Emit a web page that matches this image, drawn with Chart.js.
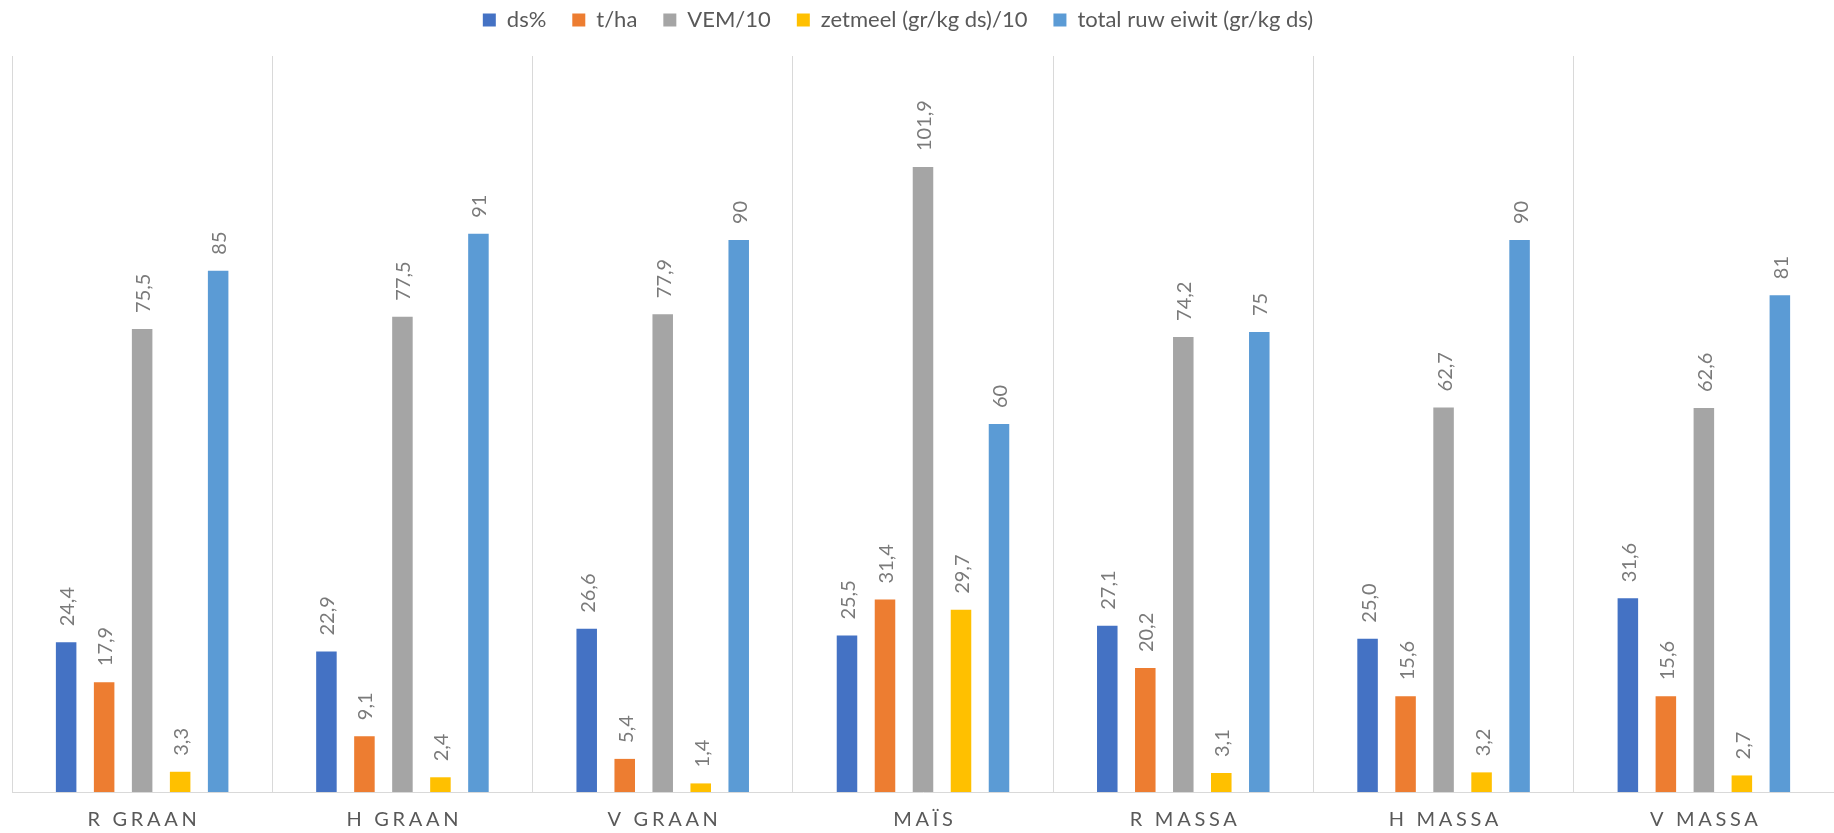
<!DOCTYPE html>
<html>
<head>
<meta charset="utf-8">
<title>Opbrengst en kwaliteit per teelt</title>
<script src="https://cdn.jsdelivr.net/npm/chart.js@4.4.1/dist/chart.umd.min.js"></script>
<style>
  html, body { margin: 0; padding: 0; background: #ffffff; }
  #wrap { width: 1834px; height: 833px; }
</style>
</head>
<body>
<div id="wrap"><canvas id="chart" width="1834" height="833"></canvas></div>
<script>
// Categories (teelten) along the x axis
const categories = ['R GRAAN', 'H GRAAN', 'V GRAAN', 'MAÏS', 'R MASSA', 'H MASSA', 'V MASSA'];

// Series names as shown in the legend
const seriesNames = ['ds%', 't/ha', 'VEM/10', 'zetmeel (gr/kg ds)/10', 'total ruw eiwit (gr/kg ds)'];

// Series values per category
const dsPercent   = [24.4, 22.9, 26.6, 25.5, 27.1, 25.0, 31.6];
const tonPerHa    = [17.9,  9.1,  5.4, 31.4, 20.2, 15.6, 15.6];
const vemDiv10    = [75.5, 77.5, 77.9, 101.9, 74.2, 62.7, 62.6];
const zetmeelDiv10 = [3.3,  2.4,  1.4, 29.7,  3.1,  3.2,  2.7];
const ruwEiwit    = [85, 91, 90, 60, 75, 90, 81];

// Decimals used in each series' value labels
const labelDecimals = [1, 1, 1, 1, 0];

// Value axis range
const valueMin = 0;
const valueMax = 120;

const seriesValues = [dsPercent, tonPerHa, vemDiv10, zetmeelDiv10, ruwEiwit];
const seriesColors = ['#4472C4', '#ED7D31', '#A5A5A5', '#FFC000', '#5B9BD5'];

const FONT = 'Lato, "Open Sans", "Liberation Sans", sans-serif';

function formatValue(v, decimals) {
  return v.toFixed(decimals).replace('.', ',');
}

// Rotated value labels above each bar
const barValueLabels = {
  id: 'barValueLabels',
  afterDatasetsDraw(chart) {
    const ctx = chart.ctx;
    ctx.save();
    ctx.font = '20px ' + FONT;
    ctx.fillStyle = '#7a7a7a';
    ctx.textAlign = 'left';
    ctx.textBaseline = 'alphabetic';
    chart.data.datasets.forEach((ds, di) => {
      const meta = chart.getDatasetMeta(di);
      if (meta.hidden) return;
      meta.data.forEach((bar, i) => {
        const text = formatValue(ds.data[i], labelDecimals[di]);
        ctx.save();
        ctx.translate(bar.x + 8, bar.y - 16);
        ctx.rotate(-Math.PI / 2);
        ctx.fillText(text, 0, 0);
        ctx.restore();
      });
    });
    ctx.restore();
  }
};

// Spaced-out category names under the axis
const categoryNames = {
  id: 'categoryNames',
  afterDraw(chart) {
    const ctx = chart.ctx;
    const xScale = chart.scales.x;
    const spacing = 3.7;
    ctx.save();
    ctx.font = '20px ' + FONT;
    ctx.letterSpacing = spacing + 'px';
    ctx.fillStyle = '#595959';
    ctx.textAlign = 'center';
    ctx.textBaseline = 'middle';
    const y = chart.chartArea.bottom + 28;
    categories.forEach((name, i) => {
      ctx.fillText(name, xScale.getPixelForValue(i) + spacing / 2, y);
    });
    ctx.restore();
  }
};

// Lift the legend into the top margin and nudge it slightly left
const legendPlacement = {
  id: 'legendPlacement',
  afterLayout(chart) {
    const lg = chart.legend;
    if (!lg) return;
    lg.top -= 15; lg.bottom -= 15;
    lg.left -= 25; lg.right -= 25;
  }
};

const datasets = seriesNames.map((name, i) => ({
  label: name,
  data: seriesValues[i],
  backgroundColor: seriesColors[i],
  borderWidth: 0,
  categoryPercentage: 0.73,
  barPercentage: 0.54
}));

new Chart(document.getElementById('chart'), {
  type: 'bar',
  data: { labels: categories, datasets },
  options: {
    responsive: false,
    animation: false,
    devicePixelRatio: 1,
    layout: { padding: { left: 12, right: 0, top: -2, bottom: 41 } },
    plugins: {
      legend: {
        position: 'top',
        align: 'center',
        labels: {
          font: { family: FONT, size: 22 },
          color: '#595959',
          boxWidth: 13,
          boxHeight: 13,
          padding: 26
        }
      },
      tooltip: { enabled: false },
      title: { display: false }
    },
    scales: {
      x: {
        grid: {
          display: true,
          offset: true,
          color: '#d9d9d9',
          lineWidth: 1,
          drawTicks: false
        },
        border: { display: true, color: '#d9d9d9', width: 1 },
        ticks: { display: false }
      },
      y: {
        display: false,
        min: valueMin,
        max: valueMax
      }
    }
  },
  plugins: [barValueLabels, categoryNames, legendPlacement]
});
</script>
</body>
</html>
